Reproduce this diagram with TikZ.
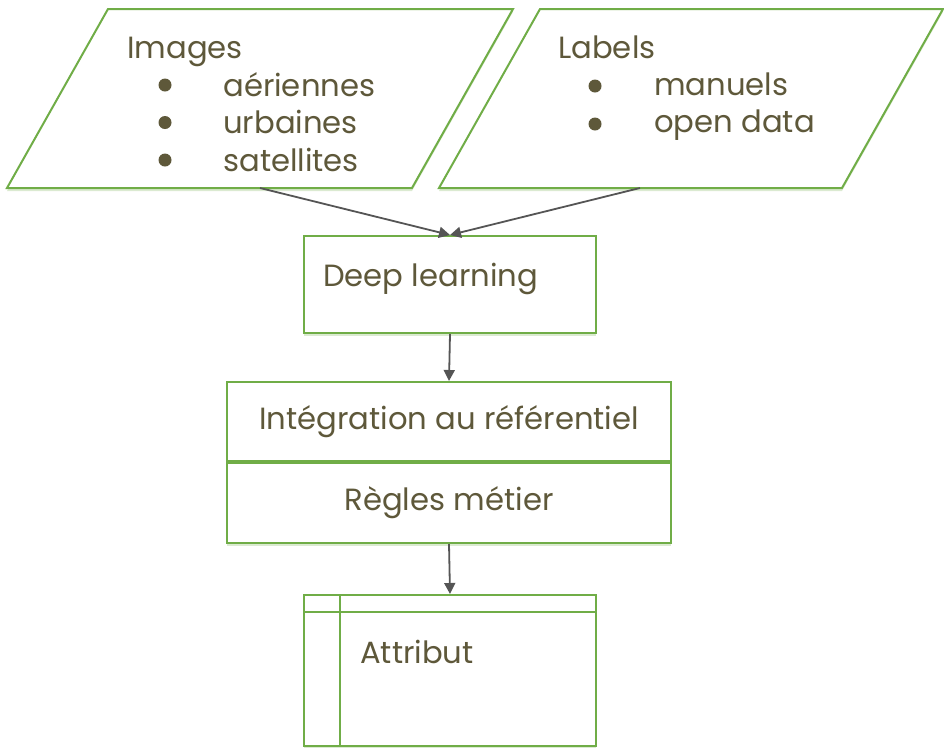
\documentclass[tikz,border=0pt]{standalone}
\usepackage{fontspec}
\setmainfont{Poppins}
\usetikzlibrary{arrows.meta,shadows,positioning}

\definecolor{boxgreen}{RGB}{112,173,71}
\definecolor{txtbrown}{RGB}{94,88,58}
\definecolor{arrowgray}{RGB}{85,85,85}
\newlength\pxu
\setlength\pxu{0.75pt}

\tikzset{
  box/.style={draw=boxgreen, line width=2\pxu, fill=white, inner sep=0,
    drop shadow={shadow xshift=0pt, shadow yshift=-3\pxu, opacity=0.25, fill=boxgreen}},
  txt/.style={text=txtbrown, font=\fontsize{23}{28}\selectfont, inner sep=0},
  dot/.style={circle, fill=txtbrown, minimum size=13\pxu, inner sep=0},
  flow/.style={-{Triangle[length=8.25pt,width=8.25pt]}, draw=arrowgray, line width=1.8\pxu},
}

\begin{document}
\begin{tikzpicture}[x=0.75pt, y=-0.75pt]
   \useasboundingbox (0,0) rectangle (944,747);

   % inputs
   \draw[box] (7,188) -- (108,9) -- (513,9) -- (412,188) -- cycle;
   \coordinate (imgout) at (260,188);
   \node[txt, anchor=base west] (imgtitle) at (127,58) {Images};
   \foreach \t [count=\i] in {aériennes,urbaines,satellites} {
     \node[dot] (imgdot\i) at (165,85+37.5*\i-37.5) {};
     \node[txt, anchor=base west] (imgitem\i) at (223,96+37.5*\i-37.5) {\t};
   }

   \draw[box] (439,188) -- (540,9) -- (943,9) -- (842,188) -- cycle;
   \coordinate (labout) at (640,188);
   \node[txt, anchor=base west] (labtitle) at (558,58) {Labels};
   \foreach \t [count=\i] in {manuels,open data} {
     \node[dot] (labdot\i) at (595,86+38*\i-38) {};
     \node[txt, anchor=base west] (labitem\i) at (654,95+37.5*\i-37.5) {\t};
   }

   % processing
   \node[box, rectangle, minimum width=292\pxu, minimum height=97\pxu] (dl) at (450,284.5) {};
   \node[txt, anchor=base west] (dltxt) at (323,286) {Deep learning};

   \node[box, txt, rectangle, minimum width=444\pxu, minimum height=79\pxu] (integ) at (449,421.5) {Intégration au référentiel};
   \node[box, txt, rectangle, minimum width=444\pxu, minimum height=80\pxu, below=0pt of integ] (regles) {Règles métier};

   % output table
   \node[box, rectangle, minimum width=292\pxu, minimum height=151\pxu] (attr) at (450,670.5) {};
   \draw[boxgreen, line width=2\pxu] ([yshift=-18\pxu]attr.north west) -- ([yshift=-18\pxu]attr.north east);
   \draw[boxgreen, line width=2\pxu] ([xshift=37\pxu]attr.north west) -- ([xshift=37\pxu]attr.south west);
   \node[txt, anchor=base west] (attrtxt) at (360,663) {Attribut};

   \draw[flow] (imgout) -- (dl.north);
   \draw[flow] (labout) -- (dl.north);
   \draw[flow] (dl.south) -- (integ.north);
   \draw[flow] (regles.south) -- (attr.north);
\end{tikzpicture}
\end{document}
